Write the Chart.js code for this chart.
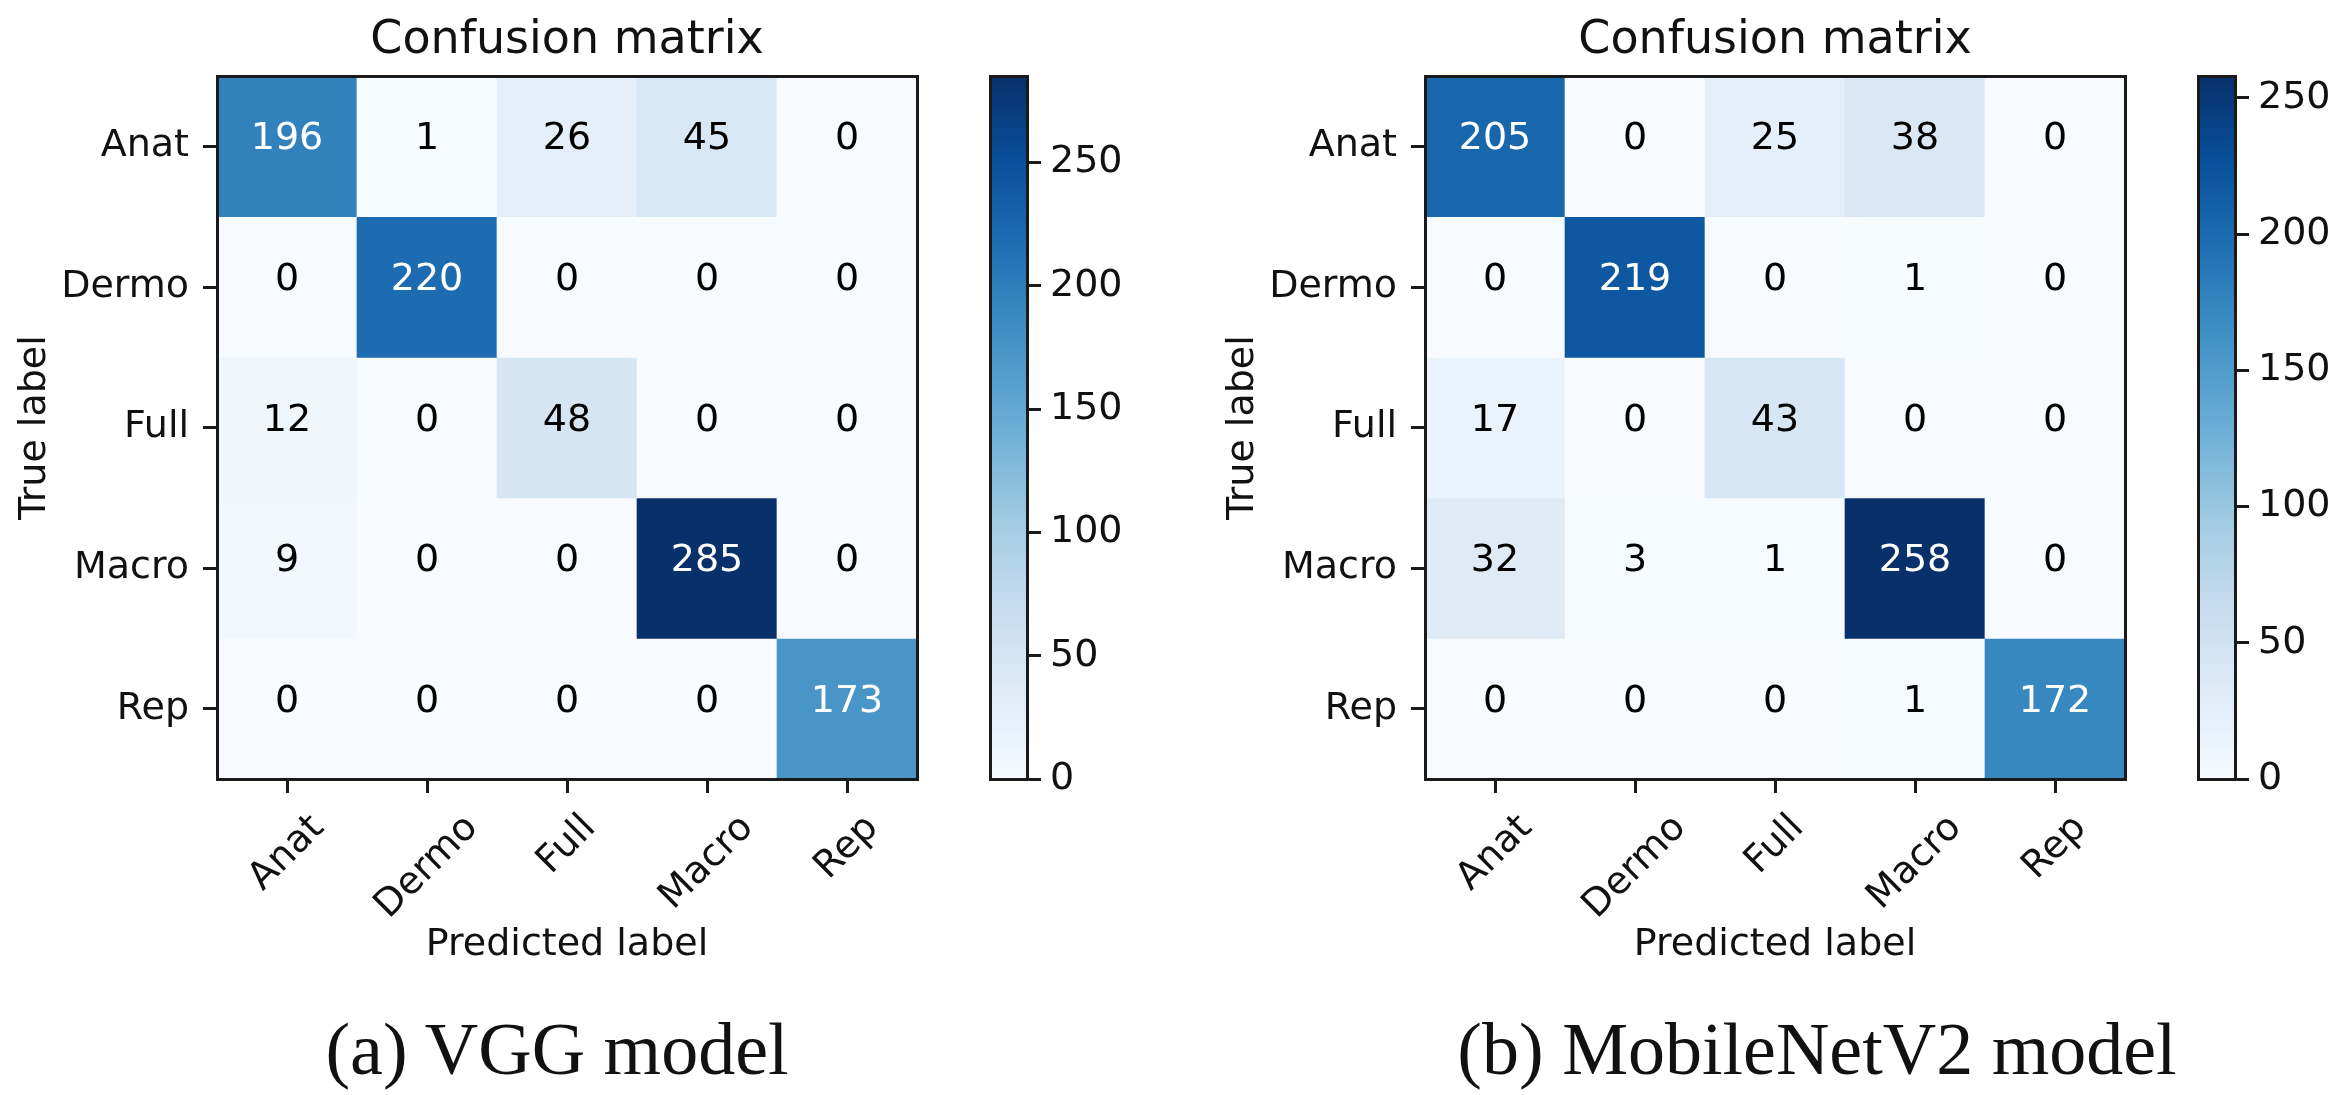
<!DOCTYPE html>
<html>
<head>
<meta charset="utf-8">
<script src="https://cdn.jsdelivr.net/npm/chart.js@4.4.1/dist/chart.umd.min.js"></script>
<style>
  body { margin: 0; background: #fff; width: 2337px; height: 1095px; overflow: hidden; position: relative; }
  canvas { position: absolute; top: 0; }
  .caption { position: absolute; top: 1012px; width: 900px; text-align: center; font-family: 'Liberation Serif', serif; font-size: 74px; line-height: 74px; color: #111; white-space: nowrap; }
</style>
</head>
<body>
<canvas id="vggMatrix" width="960" height="1000" style="left:0px"></canvas>
<canvas id="vggBar" width="200" height="830" style="left:960px"></canvas>
<canvas id="mobileMatrix" width="960" height="1000" style="left:1208px"></canvas>
<canvas id="mobileBar" width="169" height="830" style="left:2168px"></canvas>
<div class="caption" style="left:107px">(a) VGG model</div>
<div class="caption" style="left:1367px">(b) MobileNetV2 model</div>

<script>
// ---------- données ----------
const classes = ['Anat', 'Dermo', 'Full', 'Macro', 'Rep'];
const vggCounts = [
    [196, 1, 26, 45, 0],
    [0, 220, 0, 0, 0],
    [12, 0, 48, 0, 0],
    [9, 0, 0, 285, 0],
    [0, 0, 0, 0, 173]
];
const mobileCounts = [
    [205, 0, 25, 38, 0],
    [0, 219, 0, 1, 0],
    [17, 0, 43, 0, 0],
    [32, 3, 1, 258, 0],
    [0, 0, 0, 1, 172]
];
const colorbarTicks = [0, 50, 100, 150, 200, 250];

// colormap "Blues" de matplotlib
const BLUES = ['#f7fbff', '#deebf7', '#c6dbef', '#9ecae1', '#6baed6', '#4292c6', '#2171b5', '#08519c', '#08306b'];

const INK = '#111';
const LINE = '#1a1a1a';
Chart.defaults.font.family = "'DejaVu Sans'";
Chart.defaults.color = INK;

function hexToRgb(h) {
    return [parseInt(h.slice(1, 3), 16), parseInt(h.slice(3, 5), 16), parseInt(h.slice(5, 7), 16)];
}
function blues(t) {
    let n = BLUES.length - 1;
    let x = Math.min(Math.max(t, 0), 1) * n;
    let i = Math.min(Math.floor(x), n - 1);
    let f = x - i;
    let a = hexToRgb(BLUES[i]), b = hexToRgb(BLUES[i + 1]);
    let c = a.map((v, k) => Math.round(v + (b[k] - v) * f));
    return 'rgb(' + c.join(',') + ')';
}

// bordure seule (cadre du graphique)
function frameAxis(position, size) {
    return {
        position: position,
        axis: (position === 'top' || position === 'bottom') ? 'x' : 'y',
        type: 'linear',
        ticks: { display: false },
        grid: { drawOnChartArea: false, drawTicks: false, lineWidth: 3, color: LINE },
        border: { display: true, color: LINE, width: 3, z: 1 },
        afterFit: function (s) {
            if (s.isHorizontal()) s.height = size; else s.width = size;
        }
    };
}

// nombres dans les cases
const cellText = {
    id: 'cellText',
    afterDatasetsDraw(chart) {
        const ctx = chart.ctx;
        ctx.save();
        ctx.font = "38px 'DejaVu Sans'";
        ctx.textAlign = 'center';
        ctx.textBaseline = 'alphabetic';
        chart.data.datasets.forEach((ds, i) => {
            chart.getDatasetMeta(i).data.forEach((bar, j) => {
                let v = ds.counts[j];
                ctx.fillStyle = v > ds.vmax / 2 ? '#fff' : '#000';
                ctx.fillText(String(v), bar.x, (bar.y + bar.base) / 2 + 3);
            });
        });
        ctx.restore();
    }
};

// étiquettes à 45° centrées sur le tick (comme matplotlib)
const centerRotatedTicks = {
    id: 'centerRotatedTicks',
    beforeDraw(chart) {
        const scale = chart.scales.x;
        if (!scale || !scale.getLabelItems) return;
        const ctx = chart.ctx;
        ctx.save();
        scale.getLabelItems().forEach(item => {
            if (!item.options || !item.options.translation || item._centered) return;
            ctx.font = item.font.string;
            let w = ctx.measureText(item.label).width;
            item.options.translation[0] += w * Math.SQRT1_2 / 2;
            item._centered = true;
        });
        ctx.restore();
    }
};

function drawMatrix(id, counts) {
    const vmax = Math.max(...counts.flat());
    const datasets = counts.map((row, r) => ({
        label: classes[r],
        data: row.map(() => [r - 0.5, r + 0.5]),
        counts: row,
        vmax: vmax,
        xAxisID: 'x',
        yAxisID: 'y',
        backgroundColor: row.map(v => blues(v / vmax)),
        borderWidth: 0,
        barPercentage: 1,
        categoryPercentage: 1,
        grouped: false
    }));

    new Chart(document.getElementById(id), {
        type: 'bar',
        data: { labels: classes, datasets: datasets },
        plugins: [cellText, centerRotatedTicks],
        options: {
            responsive: false,
            animation: false,
            layout: { padding: { left: 0, right: 43, top: 0, bottom: 27 } },
            plugins: {
                legend: { display: false },
                tooltip: { enabled: false },
                title: {
                    display: true,
                    text: 'Confusion matrix',
                    fullSize: false,
                    color: INK,
                    font: { size: 46, weight: 'normal' },
                    padding: { top: 13, bottom: 8 }
                }
            },
            scales: {
                x: {
                    type: 'category',
                    position: 'bottom',
                    offset: true,
                    ticks: { font: { size: 38 }, color: INK, minRotation: 45, maxRotation: 45, padding: 13, autoSkip: false },
                    grid: { offset: false, drawOnChartArea: false, drawTicks: true, tickLength: 14, lineWidth: 3, color: LINE },
                    border: { display: true, color: LINE, width: 3, z: 1 },
                    title: { display: true, text: 'Predicted label', color: INK, font: { size: 38 }, padding: { top: 0, bottom: 5 } },
                    afterFit: function (s) { s.height = 194; }
                },
                y: {
                    type: 'linear',
                    position: 'left',
                    min: -0.5,
                    max: 4.5,
                    reverse: true,
                    afterBuildTicks: function (s) { s.ticks = classes.map((c, i) => ({ value: i })); },
                    ticks: { font: { size: 38 }, color: INK, padding: 14, callback: v => classes[v] },
                    grid: { drawOnChartArea: false, drawTicks: true, tickLength: 14, lineWidth: 3, color: LINE },
                    border: { display: true, color: LINE, width: 3, z: 1 },
                    title: { display: true, text: 'True label', color: INK, font: { size: 38 }, padding: { top: 12, bottom: 0 } },
                    afterFit: function (s) { s.width = 217; }
                },
                xTop: frameAxis('top', 0),
                yRight: frameAxis('right', 0)
            }
        }
    });
}

function drawColorbar(id, counts, padRight, axisWidth) {
    const vmax = Math.max(...counts.flat());
    new Chart(document.getElementById(id), {
        type: 'bar',
        data: {
            labels: [''],
            datasets: [{
                data: [[0, vmax]],
                xAxisID: 'x',
                yAxisID: 'y',
                borderWidth: 0,
                barPercentage: 1,
                categoryPercentage: 1,
                backgroundColor: function (c) {
                    const area = c.chart.chartArea;
                    if (!area) return BLUES[0];
                    const g = c.chart.ctx.createLinearGradient(0, area.bottom, 0, area.top);
                    BLUES.forEach((col, i) => g.addColorStop(i / (BLUES.length - 1), col));
                    return g;
                }
            }]
        },
        options: {
            responsive: false,
            animation: false,
            layout: { padding: { left: 30, right: padRight, top: 76, bottom: 51 } },
            plugins: { legend: { display: false }, tooltip: { enabled: false } },
            scales: {
                x: {
                    type: 'category',
                    position: 'bottom',
                    ticks: { display: false },
                    grid: { drawOnChartArea: false, drawTicks: false, lineWidth: 3, color: LINE },
                    border: { display: true, color: LINE, width: 3, z: 1 },
                    afterFit: function (s) { s.height = 0; }
                },
                y: {
                    type: 'linear',
                    position: 'right',
                    min: 0,
                    max: vmax,
                    afterBuildTicks: function (s) { s.ticks = colorbarTicks.map(v => ({ value: v })); },
                    ticks: { font: { size: 38 }, color: INK, padding: 9 },
                    grid: { drawOnChartArea: false, drawTicks: true, tickLength: 14, lineWidth: 3, color: LINE },
                    border: { display: true, color: LINE, width: 3, z: 1 },
                    afterFit: function (s) { s.width = axisWidth; }
                },
                xTop: frameAxis('top', 0),
                yLeft: frameAxis('left', 0)
            }
        }
    });
}

drawMatrix('vggMatrix', vggCounts);
drawColorbar('vggBar', vggCounts, 13, 120);
drawMatrix('mobileMatrix', mobileCounts);
drawColorbar('mobileBar', mobileCounts, 7, 95);
</script>
</body>
</html>
